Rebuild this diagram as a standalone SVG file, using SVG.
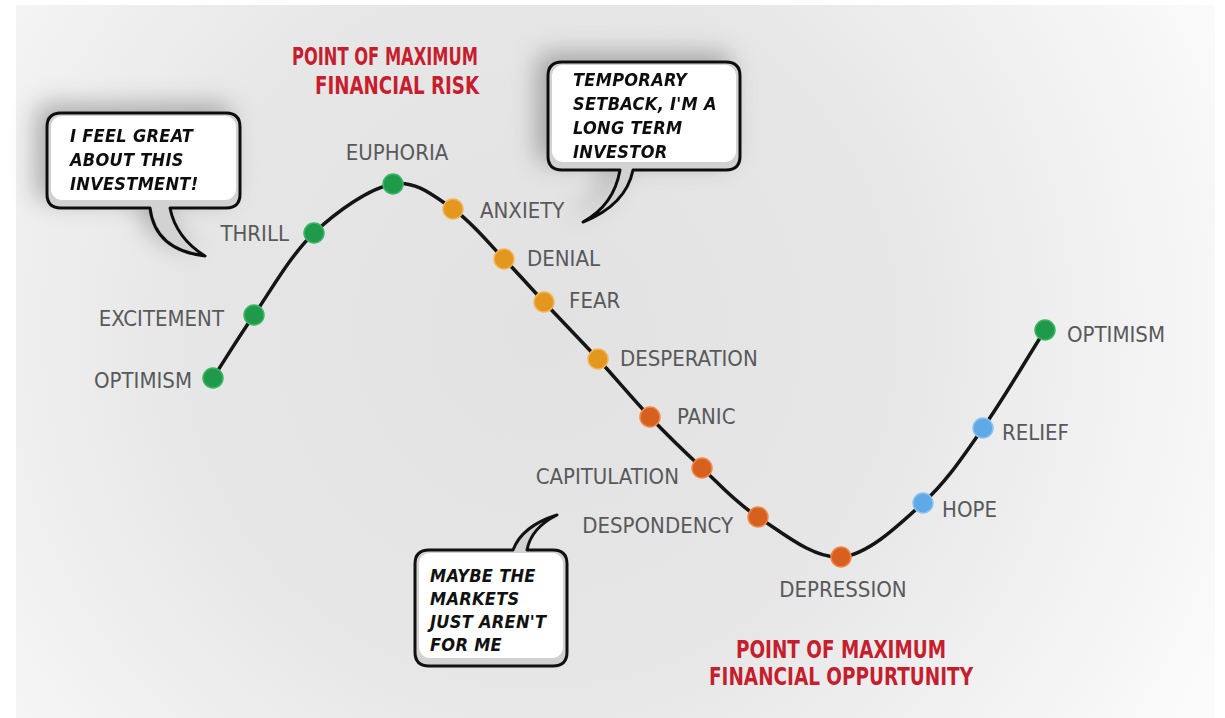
<svg xmlns="http://www.w3.org/2000/svg" width="1225" height="718" viewBox="0 0 1225 718">
<defs>
<radialGradient id="bg" cx="540" cy="330" r="760" gradientUnits="userSpaceOnUse">
<stop offset="0" stop-color="#e2e2e2"/>
<stop offset="0.45" stop-color="#e6e6e6"/>
<stop offset="1" stop-color="#fbfbfb"/>
</radialGradient>
<filter id="shadow" x="-40%" y="-40%" width="180%" height="180%">
<feDropShadow dx="-10" dy="-8" stdDeviation="12" flood-color="#000" flood-opacity="0.28"/>
</filter>
<style>
.lbl{font-family:"DejaVu Sans Condensed","DejaVu Sans",sans-serif;font-size:22px;fill:#58595b}
.title{font-family:"DejaVu Sans Condensed","DejaVu Sans",sans-serif;font-weight:bold;font-size:24px;fill:#c51f2f}
.say{font-family:"DejaVu Sans Condensed","DejaVu Sans",sans-serif;font-weight:bold;font-style:italic;font-size:18px;fill:#111;letter-spacing:0.3px}
.bub{fill:#d2d2d2;stroke:#111;stroke-width:3;stroke-linejoin:round}
.bin{fill:#ffffff}
.g{fill:#1f9a4a;stroke:#3cb564;stroke-width:1.5}
.o{fill:#e3971f;stroke:#f1b657;stroke-width:1.5}
.r{fill:#d7601f;stroke:#ec8a4e;stroke-width:1.5}
.b{fill:#5ea9e6;stroke:#8cc3f0;stroke-width:1.5}
</style>
</defs>
<rect x="0" y="0" width="1225" height="718" fill="#ffffff"/>
<rect x="16" y="5" width="1199" height="713" fill="url(#bg)"/>

<g id="titles">
<text class="title" x="385" y="65" text-anchor="middle" textLength="186" lengthAdjust="spacingAndGlyphs">POINT OF MAXIMUM</text>
<text class="title" x="397" y="94" text-anchor="middle" textLength="164" lengthAdjust="spacingAndGlyphs">FINANCIAL RISK</text>
<text class="title" x="841" y="658" text-anchor="middle" textLength="210" lengthAdjust="spacingAndGlyphs">POINT OF MAXIMUM</text>
<text class="title" x="841" y="685" text-anchor="middle" textLength="264" lengthAdjust="spacingAndGlyphs">FINANCIAL OPPURTUNITY</text>
</g>

<g id="bubble-great" filter="url(#shadow)">
<path class="bub" d="M61,113 H226 Q240,113 240,127 V194 Q240,208 226,208 H170 Q176,238 205,256 Q155,250 150,208 H61 Q47,208 47,194 V127 Q47,113 61,113 Z"/>
<rect class="bin" x="51" y="116" width="185" height="84" rx="11"/>
<text class="say" x="70" y="142">I FEEL GREAT</text>
<text class="say" x="70" y="166">ABOUT THIS</text>
<text class="say" x="70" y="190">INVESTMENT!</text>
</g>

<g id="bubble-setback" filter="url(#shadow)">
<path class="bub" d="M562,62 H726 Q740,62 740,76 V156 Q740,170 726,170 H633 Q626,205 583,222 Q614,205 620,170 H562 Q548,170 548,156 V76 Q548,62 562,62 Z"/>
<rect class="bin" x="552" y="65" width="184" height="97" rx="11"/>
<text class="say" x="573" y="86">TEMPORARY</text>
<text class="say" x="573" y="110">SETBACK, I'M A</text>
<text class="say" x="573" y="134">LONG TERM</text>
<text class="say" x="573" y="158">INVESTOR</text>
</g>

<g id="bubble-markets">
<path class="bub" d="M429,550 H513 Q522,526 557,515 Q531,528 527,550 H553 Q567,550 567,564 V652 Q567,666 553,666 H429 Q415,666 415,652 V564 Q415,550 429,550 Z"/>
<rect class="bin" x="419" y="553" width="144" height="105" rx="11"/>
<text class="say" x="430" y="582">MAYBE THE</text>
<text class="say" x="430" y="605">MARKETS</text>
<text class="say" x="430" y="628">JUST AREN'T</text>
<text class="say" x="430" y="651">FOR ME</text>
</g>

<g id="connectors">
<path d="M213,378 C226.7,357 237.2,339.2 254,315 C270.8,290.8 290.8,254.8 314,233 C337.2,211.2 369.8,188 393,184 C416.2,180 434.5,196.5 453,209 C471.5,221.5 488.8,243.5 504,259 C519.2,274.5 528.3,285.3 544,302 C559.7,318.7 580.3,339.8 598,359 C615.7,378.2 632.7,398.8 650,417 C667.3,435.2 684,451.3 702,468 C720,484.7 734.8,502.2 758,517 C781.2,531.8 813.5,559.3 841,557 C868.5,554.7 899.3,524.5 923,503 C946.7,481.5 962.7,456.8 983,428 C1003.3,399.2 1024.3,362.7 1045,330" fill="none" stroke="#151515" stroke-width="3.5" stroke-linecap="round"/>
</g>

<g id="n-optimism1"><circle class="g" cx="213" cy="378" r="10"/><text class="lbl" x="192" y="388" text-anchor="end">OPTIMISM</text></g>
<g id="n-excitement"><circle class="g" cx="254" cy="315" r="10"/><text class="lbl" x="224" y="326" text-anchor="end">EXCITEMENT</text></g>
<g id="n-thrill"><circle class="g" cx="314" cy="233" r="10"/><text class="lbl" x="289" y="241" text-anchor="end">THRILL</text></g>
<g id="n-euphoria"><circle class="g" cx="393" cy="184" r="10"/><text class="lbl" x="397" y="160" text-anchor="middle">EUPHORIA</text></g>
<g id="n-anxiety"><circle class="o" cx="453" cy="209" r="10"/><text class="lbl" x="480" y="218">ANXIETY</text></g>
<g id="n-denial"><circle class="o" cx="504" cy="259" r="10"/><text class="lbl" x="527" y="266">DENIAL</text></g>
<g id="n-fear"><circle class="o" cx="544" cy="302" r="10"/><text class="lbl" x="569" y="308">FEAR</text></g>
<g id="n-desperation"><circle class="o" cx="598" cy="359" r="10"/><text class="lbl" x="620" y="366">DESPERATION</text></g>
<g id="n-panic"><circle class="r" cx="650" cy="417" r="10"/><text class="lbl" x="677" y="424">PANIC</text></g>
<g id="n-capitulation"><circle class="r" cx="702" cy="468" r="10"/><text class="lbl" x="679" y="484" text-anchor="end">CAPITULATION</text></g>
<g id="n-despondency"><circle class="r" cx="758" cy="517" r="10"/><text class="lbl" x="733" y="533" text-anchor="end">DESPONDENCY</text></g>
<g id="n-depression"><circle class="r" cx="841" cy="557" r="10"/><text class="lbl" x="843" y="597" text-anchor="middle">DEPRESSION</text></g>
<g id="n-hope"><circle class="b" cx="923" cy="503" r="10"/><text class="lbl" x="942" y="517">HOPE</text></g>
<g id="n-relief"><circle class="b" cx="983" cy="428" r="10"/><text class="lbl" x="1002" y="440">RELIEF</text></g>
<g id="n-optimism2"><circle class="g" cx="1045" cy="330" r="10"/><text class="lbl" x="1067" y="342">OPTIMISM</text></g>
</svg>
